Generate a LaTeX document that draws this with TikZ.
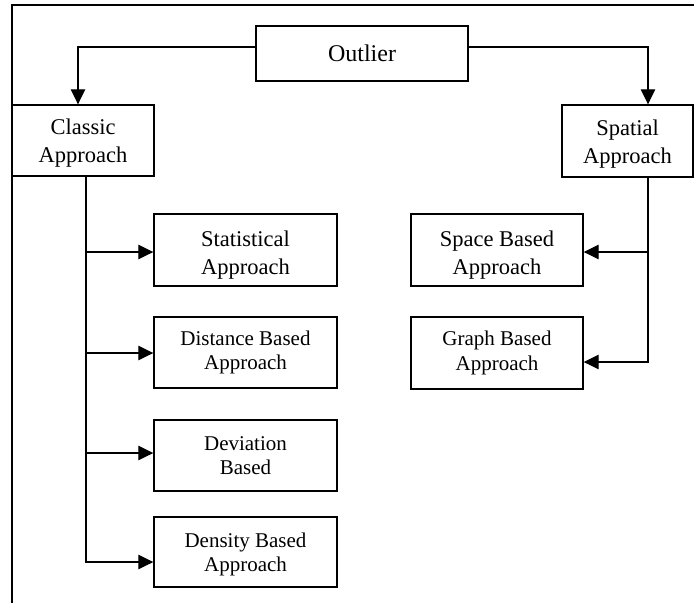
\documentclass[tikz,border=0pt]{standalone}
\usepackage{fontspec}
\setmainfont{Liberation Serif}
\usetikzlibrary{arrows.meta}
\newcommand\topgap[1]{\rule{0pt}{#1}}
\begin{document}
\begin{tikzpicture}[x=1pt,y=-1pt,
  box/.style={draw,line width=1.4pt,inner sep=0pt,align=center},
  bigtxt/.style={font=\fontsize{22.5}{28}\selectfont},
  smalltxt/.style={font=\fontsize{21}{24.5}\selectfont},
  conn/.style={line width=1.3pt},
  arr/.style={conn,-{Triangle[length=15pt,width=14.5pt]}},
  frameline/.style={line width=1.3pt}]
\useasboundingbox (0,0) rectangle (694,603);
\draw[frameline] (694,5) -- (12,5) -- (12,603);

\node[box,font=\fontsize{24}{28}\selectfont,minimum width=212pt,minimum height=55pt] (out) at (362,53.5) {Outlier};
\node[box,bigtxt,minimum width=142pt,minimum height=71pt] (cla) at (83,140.5) {\topgap{21.5pt}Classic\\Approach};
\node[box,bigtxt,minimum width=131pt,minimum height=72pt] (spa) at (627.5,141) {\topgap{21.5pt}Spatial\\Approach};

\node[box,bigtxt,minimum width=183pt,minimum height=72pt] (sta) at (245.5,250) {\topgap{25.5pt}Statistical\\Approach};
\node[box,smalltxt,minimum width=183pt,minimum height=71pt] (dis) at (245.5,352.5) {Distance Based\\Approach};
\node[box,smalltxt,minimum width=183pt,minimum height=71pt] (dev) at (245.5,455.5) {Deviation\\Based};
\node[box,smalltxt,minimum width=183pt,minimum height=70pt] (den) at (245.5,552) {\topgap{19pt}Density Based\\Approach};

\node[box,bigtxt,minimum width=172pt,minimum height=72pt] (spc) at (497,250) {\topgap{25.5pt}Space Based\\Approach};
\node[box,smalltxt,minimum width=172pt,minimum height=72pt] (gra) at (497,353) {Graph Based\\Approach};

\draw[arr] ([yshift=6.5pt]out.west) -| ([xshift=-5pt]cla.north);
\draw[arr] ([yshift=6.5pt]out.east) -| ([xshift=20.5pt]spa.north);

\draw[arr] ([xshift=3pt]cla.south) |- ([yshift=-2pt]sta.west);
\draw[arr] ([xshift=3pt]cla.south) |- ([yshift=-0.5pt]dis.west);
\draw[arr] ([xshift=3pt]cla.south) |- ([yshift=2.5pt]dev.west);
\draw[arr] ([xshift=3pt]cla.south) |- ([yshift=-10pt]den.west);

\draw[arr] ([xshift=20.5pt]spa.south) |- ([yshift=-2pt]spc.east);
\draw[arr] ([xshift=20.5pt]spa.south) |- ([yshift=-9pt]gra.east);
\end{tikzpicture}
\end{document}
